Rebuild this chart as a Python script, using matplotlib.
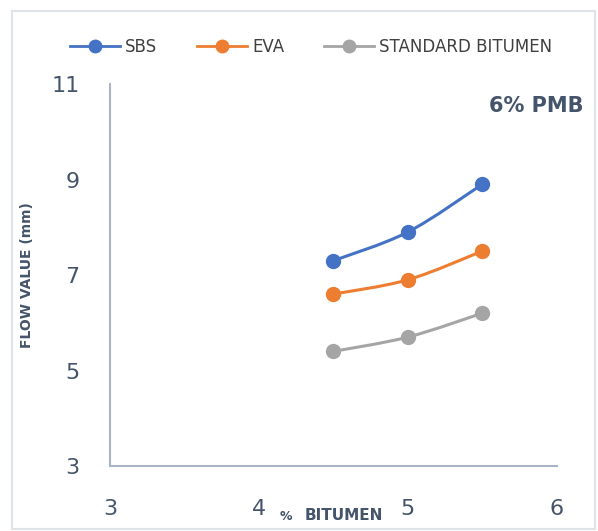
import numpy as np
import matplotlib.pyplot as plt
from matplotlib.path import Path
from matplotlib.patches import PathPatch, Rectangle
from matplotlib.lines import Line2D

# data
bitumen = [4.5, 5.0, 5.5]
sbs = [7.3, 7.9, 8.9]
eva = [6.6, 6.9, 7.5]
standard = [5.4, 5.7, 6.2]
series_names = ["SBS", "EVA", "STANDARD BITUMEN"]
colors = ["#4472c4", "#ed7d31", "#a5a5a5"]
text_col = "#44546a"


def smooth_path(x, y, t=1/6):
    # bezier through the points, Excel-like smoothing
    x = np.asarray(x, float)
    y = np.asarray(y, float)
    verts = [(x[0], y[0])]
    codes = [Path.MOVETO]
    n = len(x)
    for i in range(n - 1):
        p0 = (x[max(i - 1, 0)], y[max(i - 1, 0)])
        p1 = (x[i], y[i])
        p2 = (x[i + 1], y[i + 1])
        p3 = (x[min(i + 2, n - 1)], y[min(i + 2, n - 1)])
        c1 = (p1[0] + (p2[0] - p0[0]) * t, p1[1] + (p2[1] - p0[1]) * t)
        c2 = (p2[0] - (p3[0] - p1[0]) * t, p2[1] - (p3[1] - p1[1]) * t)
        verts += [c1, c2, p2]
        codes += [Path.CURVE4] * 3
    return Path(verts, codes)


fig = plt.figure(figsize=(5.98, 5.31), dpi=100)
ax = fig.add_axes([0.184, 0.1224, 0.747, 0.7194])

for ys, c in zip([sbs, eva, standard], colors):
    ax.add_patch(PathPatch(smooth_path(bitumen, ys), facecolor="none",
                           edgecolor=c, lw=2.2, zorder=2))
    ax.plot(bitumen, ys, "o", color=c, ms=10, zorder=3)

ax.set_xlim(3, 6)
ax.set_ylim(3, 11)
ax.set_xticks([3, 4, 5, 6])
ax.set_yticks([3, 5, 7, 9, 11])
ax.tick_params(length=0, labelsize=16, colors=text_col)
ax.tick_params(axis="x", pad=24)
ax.tick_params(axis="y", pad=22)
for s in ["top", "right"]:
    ax.spines[s].set_visible(False)
for s in ["left", "bottom"]:
    ax.spines[s].set_color("#a9b4c6")
    ax.spines[s].set_linewidth(1.5)

ax.set_ylabel("FLOW VALUE (mm)", fontsize=10, fontweight="bold", color=text_col)
ax.yaxis.set_label_coords(-0.17, 0.5)
fig.text(0.468, 0.028, "%", fontsize=9, fontweight="bold", color=text_col, ha="left", va="center")
fig.text(0.51, 0.03, "BITUMEN", fontsize=11, fontweight="bold", color=text_col, ha="left", va="center")

fig.text(0.975, 0.8, "6% PMB", fontsize=15, fontweight="bold", color=text_col, ha="right", va="center")

handles = [Line2D([], [], color=c, lw=2, marker="o", ms=9) for c in colors]
fig.legend(handles, series_names, loc="center", bbox_to_anchor=(0.52, 0.912), ncol=3,
           frameon=False, fontsize=12, handlelength=3, columnspacing=2.4, handletextpad=0.3,
           labelcolor="#404040")

fig.patches.append(Rectangle((0.02, 0.004), 0.975, 0.976, transform=fig.transFigure,
                             fill=False, edgecolor="#dfe3ea", lw=1.5))

fig.savefig("out.png", dpi=100)
